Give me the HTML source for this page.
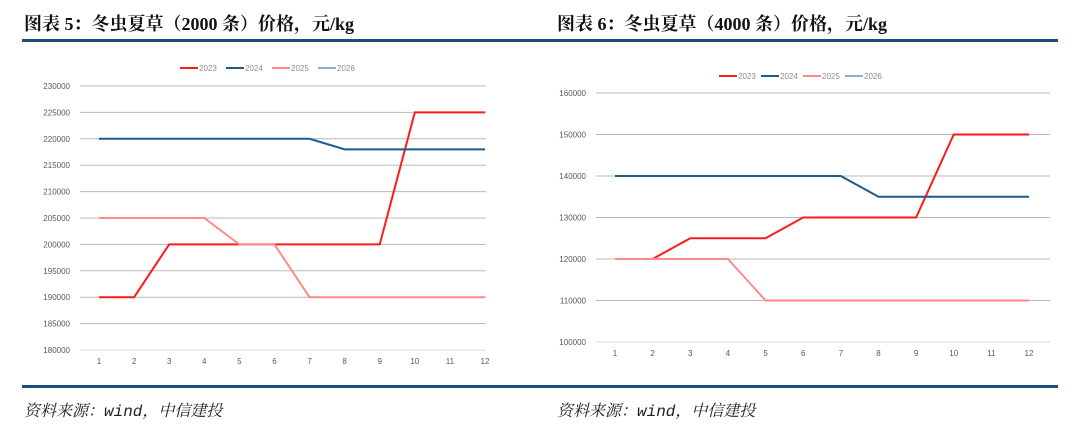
<!DOCTYPE html>
<html><head><meta charset="utf-8"><style>
body{margin:0;width:1080px;height:431px;background:#fff;overflow:hidden;position:relative;font-family:"Liberation Sans",sans-serif}
.t{position:absolute;top:10px;font:bold 18px "Liberation Serif","Noto Serif CJK SC",serif;color:#111}
.f{position:absolute;top:398px;font:italic 16px "Liberation Mono","Noto Serif CJK SC",serif;color:#222}
.r{position:absolute;left:22px;width:1036px;height:3px;background:#1a4d80}
svg{position:absolute;left:0;top:0}
</style></head><body>
<div class="t" style="left:24px">图表 5：冬虫夏草（2000 条）价格，元/kg</div>
<div class="t" style="left:557px">图表 6：冬虫夏草（4000 条）价格，元/kg</div>
<div class="r" style="top:39px"></div>
<div class="r" style="top:385px"></div>
<div class="f" style="left:24px">资料来源：wind，中信建投</div>
<div class="f" style="left:557px">资料来源：wind，中信建投</div>
<svg id="s" width="1080" height="431"></svg>
<script>
const months=[1,2,3,4,5,6,7,8,9,10,11,12];
const years=["2023","2024","2025","2026"];
const colors=["#ff1a1a","#1f5a8c","#ff8a8a","#8fb0cc"];
const a2023=[190000,190000,200000,200000,200000,200000,200000,200000,200000,225000,225000,225000];
const a2024=[220000,220000,220000,220000,220000,220000,220000,218000,218000,218000,218000,218000];
const a2025=[205000,205000,205000,205000,200000,200000,190000,190000,190000,190000,190000,190000];
const aTicks=[180000,185000,190000,195000,200000,205000,210000,215000,220000,225000,230000];
const b2023=[120000,120000,125000,125000,125000,130000,130000,130000,130000,150000,150000,150000];
const b2024=[140000,140000,140000,140000,140000,140000,140000,135000,135000,135000,135000,135000];
const b2025=[120000,120000,120000,120000,110000,110000,110000,110000,110000,110000,110000,110000];
const bTicks=[100000,110000,120000,130000,140000,150000,160000];
const svg=document.getElementById('s');const NS='http://www.w3.org/2000/svg';
function mk(t,at,p){const e=document.createElementNS(NS,t);for(const k in at)e.setAttribute(k,at[k]);(p||svg).appendChild(e);return e;}
function chart(c,name){
  const g=mk('g',{});
  
  
  const y=v=>c.y0+(v-c.ymin)/(c.ymax-c.ymin)*(c.y1-c.y0);
  const x=i=>c.x1+(i-1)*(c.x12-c.x1)/11;
  c.ticks.forEach(t=>{
    const l=mk('line',{x1:c.gx0,x2:c.gx1,y1:y(t),y2:y(t),stroke:t==c.ymin?'#d9d9d9':'#b8b8b8','stroke-width':1},g);
    
    
    const tx=mk('text',{x:c.gx0-10,y:y(t)+3,'text-anchor':'end','font-size':8,fill:'#595959'},g);tx.textContent=t;
    
    
  });
  months.forEach(m=>{const tx=mk('text',{x:x(m),y:c.y0+14,'text-anchor':'middle','font-size':8,fill:'#595959'},g);tx.textContent=m;
    
    });
  c.series.forEach((s,k)=>{
    const p=mk('polyline',{points:s.map((v,i)=>x(months[i])+','+y(v)).join(' '),fill:'none',stroke:colors[k],'stroke-width':2},g);
    
    
  });
  years.forEach((yr,k)=>{const lx=c.lx+k*c.ls;
    const lg=mk('g',{},g);
    
    
    mk('line',{x1:lx,x2:lx+18,y1:c.ly,y2:c.ly,stroke:colors[k],'stroke-width':2},lg);
    const tx=mk('text',{x:lx+19,y:c.ly+3,'font-size':8,fill:'#8c8c8c'},lg);tx.textContent=yr;});
}
chart({gx0:80,gx1:486,x1:99,x12:485,y0:350,y1:86,ymin:180000,ymax:230000,ticks:aTicks,series:[a2023,a2024,a2025],lx:180,ls:46,ly:68},'chart-2000');
chart({gx0:596,gx1:1050,x1:615,x12:1029,y0:342,y1:93,ymin:100000,ymax:160000,ticks:bTicks,series:[b2023,b2024,b2025],lx:719,ls:42,ly:76},'chart-4000');
</script>
</body></html>
